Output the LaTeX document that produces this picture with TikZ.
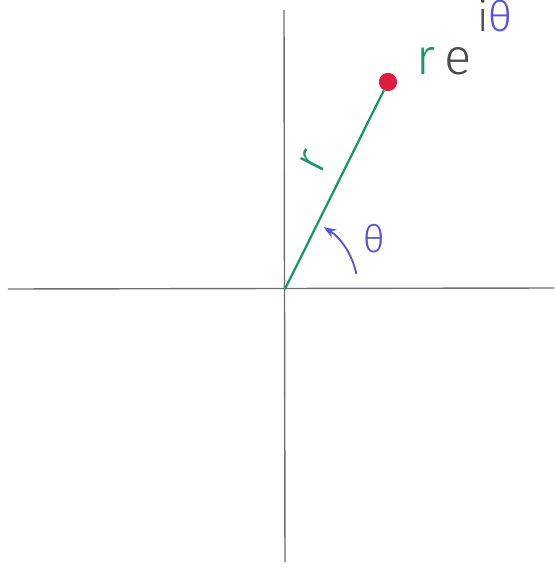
\documentclass[tikz,border=0pt]{standalone}
\usepackage{fontspec}
\setmainfont{Fira Sans Light}
\usetikzlibrary{arrows.meta, positioning, calc}
\definecolor{axisgray}{RGB}{110,110,110}
\definecolor{penGreen}{RGB}{25,150,100}
\definecolor{penBlue}{RGB}{85,85,215}
\definecolor{penRed}{RGB}{220,30,65}
\definecolor{penInk}{RGB}{75,75,75}

\begin{document}
\begin{tikzpicture}[x=0.025cm, y=0.025cm, >=Stealth,
    axis/.style={draw=axisgray, line width=1pt},
    radius line/.style={draw=penGreen, line width=1.6pt}]
    \useasboundingbox (-285,-278) rectangle (269,289);
    % axes
    \coordinate (O) at (0,0);
    \coordinate (xl) at (-277,0);
    \coordinate (xr) at (269,1);
    \coordinate (yb) at (0,-273);
    \coordinate (yt) at (-1,279);
    \draw[axis] (xl) -- (xr);
    \draw[axis] (yb) -- (yt);
    % point re^{i theta}
    \node[circle, fill=penRed, inner sep=0pt, minimum size=13] (P) at (103,207) {};
    \draw[radius line] (O) -- (P);
    \node[text=penGreen, rotate=63, font=\fontsize{34}{38}\selectfont] (rLbl) at (28,127) {r};
    % angle
    \draw[->, penBlue, line width=1.3pt] (12:73) arc[start angle=12, end angle=58, radius=73];
    \node[text=penBlue, font=\fontsize{27}{30}\selectfont] (thLbl) at (89,50) {θ};
    \node[anchor=base west, inner sep=0pt, font=\fontsize{36}{40}\selectfont] (reLbl) at (131,214)
        {\textcolor{penGreen}{r}\hspace{0.18em}\textcolor{penInk}{e}};
    \node[anchor=base west, inner sep=0pt, font=\fontsize{30}{34}\selectfont] (expLbl) at (192,257)
        {\textcolor{penInk}{i}\textcolor{penBlue}{θ}};
\end{tikzpicture}
\end{document}
